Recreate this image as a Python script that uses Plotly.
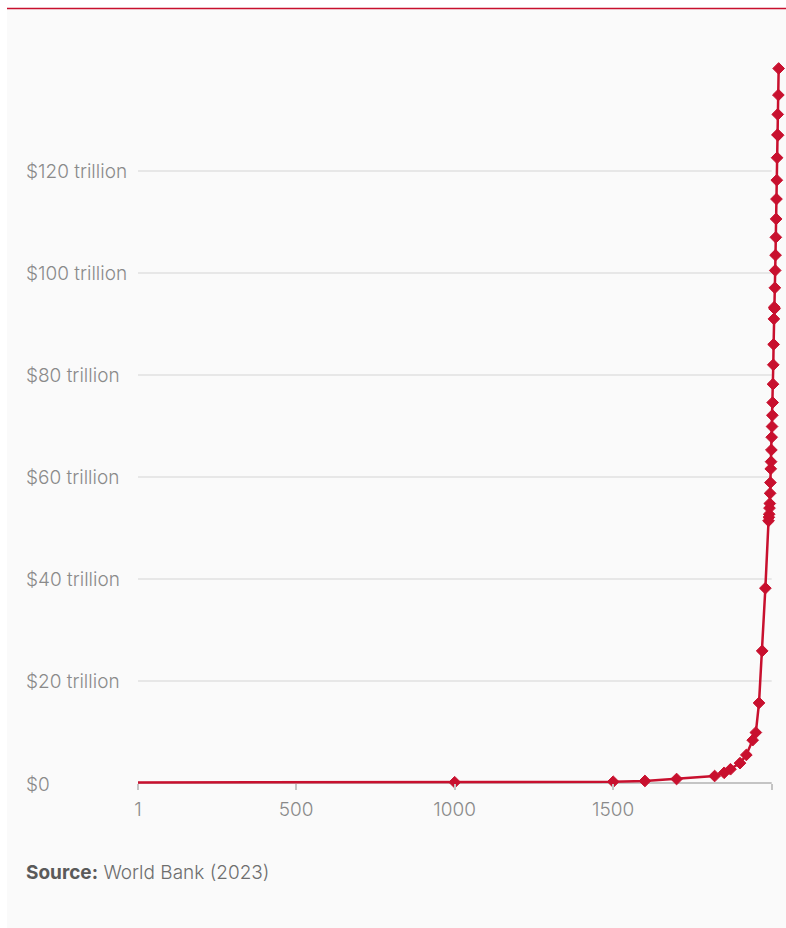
import plotly.graph_objects as go

# ---- data ----
years = [1, 1000, 1500, 1600, 1700, 1820, 1850, 1870, 1900, 1920, 1940, 1950, 1960, 1970, 1980,
         1990, 1991, 1992, 1993, 1994, 1995, 1996, 1997, 1998, 1999,
         2000, 2001, 2002, 2003, 2004, 2005, 2006, 2007, 2008, 2009,
         2010, 2011, 2012, 2013, 2014, 2015, 2016, 2017, 2018, 2019,
         2020, 2021, 2022]
gdp_trillions = [0.1, 0.15, 0.25, 0.4, 0.78, 1.37, 2.0, 2.7, 3.9, 5.5, 8.4, 9.9, 15.7, 25.9, 38.2,
                 51.4, 52.1, 52.7, 53.9, 54.8, 56.8, 58.9, 61.6, 63.0, 65.3,
                 67.8, 69.9, 72.1, 74.6, 78.2, 82.0, 86.0, 91.0, 93.3, 93.0,
                 97.1, 100.5, 103.5, 107.0, 110.6, 114.5, 118.2, 122.6, 127.1, 131.1,
                 127.0, 134.9, 140.1]
y_tick_vals = [0, 20, 40, 60, 80, 100, 120]
y_tick_text = ["$0", "$20 trillion", "$40 trillion", "$60 trillion", "$80 trillion",
               "$100 trillion", "$120 trillion"]
x_tick_vals = [1, 500, 1000, 1500, 2000]
x_tick_text = ["1", "500", "1000", "1500", "2022"]

# ---- layout geometry ----
W, H = 786, 928
L, R, T, B = 138, 5, 50, 140
px_per_year = (771.7 - 138) / 1999
px_per_tr = 5.1
zero_px = 783
x_range = [1, 1 + (W - L - R) / px_per_year]
y_range = [-(H - B - zero_px) / px_per_tr, (zero_px - T) / px_per_tr]

def paper_x(px):
    return (px - L) / (W - L - R)

def paper_y(py):
    return (H - B - py) / (H - T - B)

RED = "#c8102e"
GRAY_TXT = "#8a8a8a"
FONT = "Inter, Roboto, sans-serif"
FS = 19

fig = go.Figure()
fig.add_trace(go.Scatter(
    x=years, y=gdp_trillions, mode="lines+markers",
    line=dict(color=RED, width=2.5),
    marker=dict(symbol="diamond", color=RED, opacity=1, size=[0] + [9] * (len(years) - 1),
                line=dict(color=RED, width=1)),
    cliponaxis=False, hoverinfo="x+y", showlegend=False,
))

shapes = [
    dict(type="rect", xref="paper", yref="paper", x0=paper_x(7), x1=paper_x(786),
         y0=paper_y(9), y1=paper_y(928), fillcolor="#fafafa", line=dict(width=0), layer="below"),
    dict(type="line", xref="paper", yref="paper", x0=paper_x(7), x1=paper_x(786),
         y0=paper_y(8.5), y1=paper_y(8.5), line=dict(color=RED, width=1.5), layer="below"),
]
for v in y_tick_vals[1:]:
    shapes.append(dict(type="line", xref="x", yref="y", x0=x_tick_vals[0], x1=x_tick_vals[-1],
                       y0=v, y1=v, line=dict(color="#d4d4d4", width=1), layer="below"))
shapes.append(dict(type="line", xref="x", yref="y", x0=x_tick_vals[0], x1=x_tick_vals[-1],
                   y0=0, y1=0, line=dict(color="#c4c4c4", width=2), layer="below"))

annotations = []
for v, t in zip(y_tick_vals, y_tick_text):
    annotations.append(dict(xref="paper", yref="y", x=paper_x(24), y=v, text=t,
                            xanchor="left", yanchor="middle", showarrow=False,
                            yshift=-1 if v == 0 else 0,
                            font=dict(family=FONT, size=FS, color=GRAY_TXT, weight=300)))
annotations.append(dict(
    xref="paper", yref="paper", x=paper_x(24), y=paper_y(873),
    text="<b><span style='color:#5a5a5a'>Source:</span></b> World Bank (2023)",
    xanchor="left", yanchor="middle", showarrow=False,
    font=dict(family=FONT, size=FS, color="#6e6e6e", weight=300)))

fig.update_layout(
    width=W, height=H,
    margin=dict(l=L, r=R, t=T, b=B, pad=0),
    paper_bgcolor="white", plot_bgcolor="rgba(0,0,0,0)",
    shapes=shapes, annotations=annotations,
    xaxis=dict(range=x_range, showgrid=False, zeroline=False, showline=False,
               tickmode="array", tickvals=x_tick_vals, ticktext=x_tick_text,
               ticks="outside", ticklen=6, tickwidth=2, tickcolor="#c4c4c4",
               ticklabelstandoff=3,
               tickfont=dict(family=FONT, size=FS, color=GRAY_TXT, weight=300),
               anchor="free", position=(0 - y_range[0]) / (y_range[1] - y_range[0])),
    yaxis=dict(range=y_range, showgrid=False, zeroline=False, showline=False,
               showticklabels=False, ticks=""),
)

fig.write_html("out.html")
